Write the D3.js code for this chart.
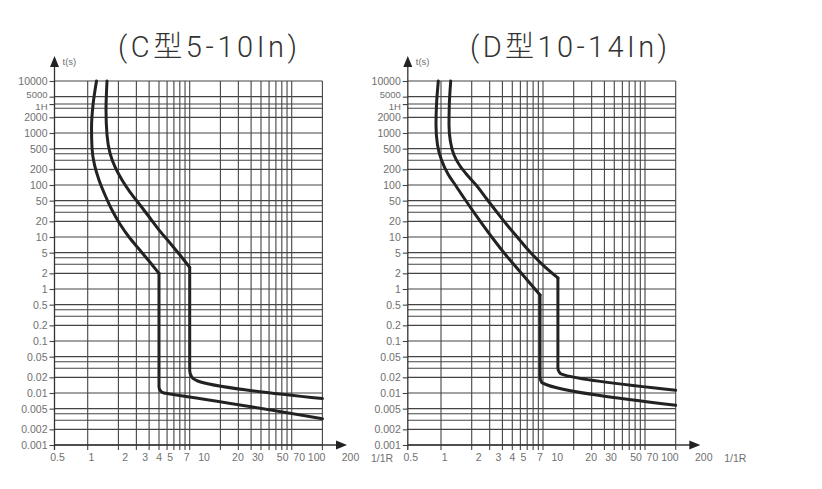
<!DOCTYPE html>
<html><head><meta charset="utf-8">
<script src="https://cdn.jsdelivr.net/npm/d3@7"></script>
<style>body{margin:0;background:#fff} svg{display:block}</style>
</head><body><svg id="chart" width="822" height="489"></svg>
<script>
// ---- data ----
const titles = ["(C型5-10In)", "(D型10-14In)"];
const xAxisTitle = "1/1R";
const yAxisTitle = "t(s)";
const xGridValues = [1,2,3,4,5,6,7,8,9,10,20,30,40,50,60,70,80,90,100,200];
const xTickValues = [0.5,1,2,3,4,5,7,10,20,30,50,70,100,200];
const yGridValues = [10000,5000,3600,3000,2000,1000,500,400,300,200,100,50,40,30,20,10,5,4,3,2,1,0.5,0.4,0.3,0.2,0.1,0.05,0.04,0.03,0.02,0.01,0.005,0.004,0.003,0.002,0.001];
const yTickValues = [10000,5000,3600,2000,1000,500,200,100,50,20,10,5,2,1,0.5,0.2,0.1,0.05,0.02,0.01,0.005,0.002,0.001];
const yTickLabels = ["10000","5000","1H","2000","1000","500","200","100","50","20","10","5","2","1","0.5","0.2","0.1","0.05","0.02","0.01","0.005","0.002","0.001"];

// C type: [multiple of In, time in s]
const cLowerThermal  = [[1.22,10000],[1.127,3455],[1.09,1247],[1.102,515],[1.166,243],[1.29,125],[1.478,64.2],[1.73,33.0],[2.07,17.8],[2.54,10.0],[3.18,5.88],[3.99,3.45],[5,2]];
const cLowerMagnetic = [[5,2],[5,0.013],[5.2,0.0108],[5.6,0.0100],[6,0.0098],[200,0.0032]];
const cUpperThermal  = [[1.546,10000],[1.512,2770],[1.546,916],[1.654,412],[1.853,222],[2.17,125],[2.6,73.3],[3.26,41.2],[4.08,23.2],[5.11,13.0],[6.41,7.67],[8.03,4.51],[10,2.6]];
const cUpperMagnetic = [[10,2.6],[10,0.027],[10.4,0.021],[11,0.0185],[12,0.017],[200,0.0078]];
// D type
const dLowerThermal  = [[0.941,10000],[0.903,3455],[0.893,1425],[0.924,588],[1.011,303],[1.171,163],[1.403,95.7],[1.681,56.2],[2.06,31.6],[2.58,17.0],[3.31,8.75],[4.24,4.71],[5.44,2.65],[7.13,1.43],[9.35,0.767]];
const dLowerMagnetic = [[9.35,0.767],[9.35,0.02],[9.7,0.016],[11.2,0.0141],[200,0.0058]];
const dUpperThermal  = [[1.245,10000],[1.206,3455],[1.198,1425],[1.239,671],[1.341,378],[1.536,232],[1.84,149],[2.25,95.7],[2.76,56.2],[3.46,31.6],[4.44,17.0],[5.69,9.57],[7.46,5.15],[10,2.89],[14,1.63]];
const dUpperMagnetic = [[14,1.63],[14,0.03],[14.7,0.024],[16.4,0.022],[200,0.0113]];

// ---- drawing ----
const svg = d3.select("#chart");
const panels = [
  {dx: 0,     title: titles[0], titleX: 207.5, titleW: 179, curves: [[cLowerThermal,cLowerMagnetic],[cUpperThermal,cUpperMagnetic]]},
  {dx: 353.3, title: titles[1], titleX: 215.2, titleW: 197, curves: [[dLowerThermal,dLowerMagnetic],[dUpperThermal,dUpperMagnetic]]}
];
const x = d3.scaleLog().domain([0.5, 200]).range([57, 322.4]);
const tickX = d3.scaleLog().domain([0.5, 200]).range([57, 350]);
const y = d3.scaleLog().domain([0.001, 10000]).range([445, 81]);
const axisX0 = 54.5, axisY0 = y(0.001);
const gridColor = "#444", textColor = "#707070";
const font = "'Liberation Sans', Arial, 'Noto Sans CJK SC', sans-serif";
const titleFont = "Roboto, 'Liberation Sans', 'Noto Sans CJK SC', sans-serif";

const line = d3.line().x(d => x(d[0])).y(d => y(d[1])).curve(d3.curveMonotoneY);

panels.forEach(p => {
  const g = svg.append("g").attr("transform", `translate(${p.dx},0)`);

  // title
  g.append("text").attr("x", p.titleX).attr("y", 57).attr("text-anchor", "middle")
    .attr("font-family", titleFont).attr("font-weight", 300).attr("font-size", 29).attr("fill", "#333")
    .attr("textLength", p.titleW).attr("lengthAdjust", "spacing")
    .text(p.title);

  // horizontal grid
  g.append("g").selectAll("line").data(yGridValues).join("line")
    .attr("x1", axisX0).attr("x2", x(200))
    .attr("y1", d => y(d)).attr("y2", d => y(d))
    .attr("stroke", gridColor).attr("stroke-width", 1.1);

  // vertical grid
  g.append("g").selectAll("line").data(xGridValues).join("line")
    .attr("x1", d => x(d)).attr("x2", d => x(d))
    .attr("y1", y(10000)).attr("y2", axisY0 + 5)
    .attr("stroke", gridColor).attr("stroke-width", 1.1);

  // y axis ticks & labels
  const ya = g.append("g").attr("transform", `translate(${axisX0},0)`)
    .call(d3.axisLeft(y).tickValues(yTickValues).tickFormat((d, i) => yTickLabels[i]).tickSize(5).tickPadding(2));
  ya.select(".domain").remove();
  ya.selectAll(".tick line").attr("stroke", gridColor).attr("stroke-width", 1.1);
  ya.selectAll(".tick text").attr("fill", textColor).attr("font-family", font).attr("font-size", 10.5);
  // the 5000 and 1H labels sit very close together: nudge apart slightly
  ya.selectAll(".tick").filter(d => d === 5000).select("text").attr("font-size", 9.5).attr("y", -2.2);
  ya.selectAll(".tick").filter(d => d === 3600).select("text").attr("font-size", 9.5).attr("y", 2.2);

  // x axis labels
  const xa = g.append("g").attr("transform", `translate(0,${axisY0})`)
    .call(d3.axisBottom(tickX).tickValues(xTickValues).tickFormat(d => String(d)).tickSize(0).tickPadding(9));
  xa.select(".domain").remove();
  xa.selectAll(".tick text").attr("fill", textColor).attr("font-family", font).attr("font-size", 10.5);
  g.append("text").attr("x", tickX(200) + 32).attr("y", axisY0 + 17).attr("text-anchor", "middle")
    .attr("fill", textColor).attr("font-family", font).attr("font-size", 10.5).text(xAxisTitle);

  // axis lines with arrows
  g.append("line").attr("x1", axisX0).attr("x2", axisX0).attr("y1", axisY0 + 5).attr("y2", 63)
    .attr("stroke", "#333").attr("stroke-width", 1.3);
  g.append("path").attr("d", `M${axisX0},56 L${axisX0 - 4.5},67 L${axisX0 + 4.5},67 Z`).attr("fill", "#222");
  g.append("line").attr("x1", axisX0).attr("x2", 340).attr("y1", axisY0).attr("y2", axisY0)
    .attr("stroke", "#333").attr("stroke-width", 1.3);
  g.append("path").attr("d", `M347,${axisY0} L336,${axisY0 - 4.5} L336,${axisY0 + 4.5} Z`).attr("fill", "#222");
  g.append("text").attr("x", axisX0 + 8).attr("y", 65).attr("fill", textColor)
    .attr("font-family", font).attr("font-size", 9.5).text(yAxisTitle);

  // curves
  p.curves.forEach(parts => {
    parts.forEach(pts => {
      g.append("path").attr("d", line(pts)).attr("fill", "none")
        .attr("stroke", "#222").attr("stroke-width", 3)
        .attr("stroke-linejoin", "round").attr("stroke-linecap", "round");
    });
  });
});
</script></body></html>
